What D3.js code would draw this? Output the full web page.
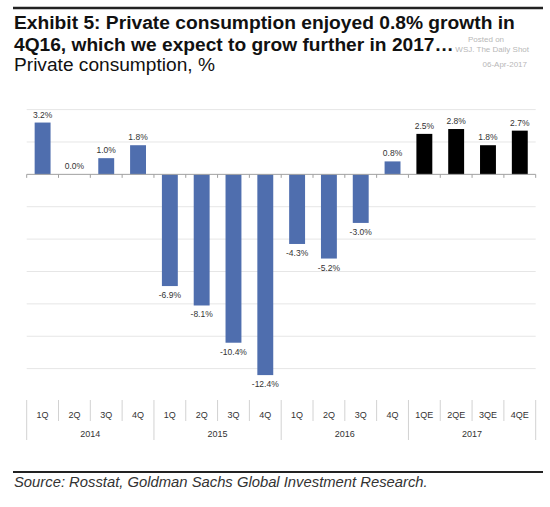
<!DOCTYPE html>
<html><head><meta charset="utf-8">
<script src="https://cdn.jsdelivr.net/npm/d3@7"></script>
<style>body{margin:0;background:#fff}svg{display:block}</style>
</head><body>
<svg id="c" width="550" height="507"></svg>
<script>
const quarters = ["1Q","2Q","3Q","4Q","1Q","2Q","3Q","4Q","1Q","2Q","3Q","4Q","1QE","2QE","3QE","4QE"];
const years = ["2014","2015","2016","2017"];
const values = [3.2,0.0,1.0,1.8,-6.9,-8.1,-10.4,-12.4,-4.3,-5.2,-3.0,0.8,2.5,2.8,1.8,2.7];
const isForecast = [0,0,0,0,0,0,0,0,0,0,0,0,1,1,1,1];
const yTicks = [-12,-10,-8,-6,-4,-2,2,4];

const svg = d3.select("#c");
const font = "Liberation Sans, Arial, Helvetica, sans-serif";

// watermark
const wm = svg.append("g").attr("fill","#b8b8b8").attr("font-family",font).attr("font-size",8);
wm.append("text").attr("x",468).attr("y",42).text("Posted on");
wm.append("text").attr("x",529).attr("y",52).attr("text-anchor","end").text("WSJ. The Daily Shot");
wm.append("text").attr("x",527).attr("y",67).attr("text-anchor","end").text("06-Apr-2017");

// top rule
svg.append("line").attr("x1",13).attr("x2",543).attr("y1",8).attr("y2",8).attr("stroke","#222").attr("stroke-width",2.5);

function fitText(sel, w){
  const len = sel.node().getComputedTextLength();
  const fs = parseFloat(sel.attr("font-size"));
  sel.attr("font-size", fs*w/len);
}
const t1 = svg.append("text").attr("x",14).attr("y",29).attr("font-family",font).attr("font-weight","bold").attr("font-size",19).attr("fill","#111")
  .text("Exhibit 5: Private consumption enjoyed 0.8% growth in");
fitText(t1,501);
const t2 = svg.append("text").attr("x",14).attr("y",51).attr("font-family",font).attr("font-weight","bold").attr("font-size",19).attr("fill","#111")
  .text("4Q16, which we expect to grow further in 2017\u2026");
fitText(t2,440);
const t3 = svg.append("text").attr("x",14).attr("y",71).attr("font-family",font).attr("font-size",18).attr("fill","#111")
  .text("Private consumption, %");
fitText(t3,201);

// scales
const x0 = 26.7, x1 = 535.7;
const x = d3.scaleBand().domain(d3.range(values.length)).range([x0,x1]).paddingInner(0.5).paddingOuter(0.25);
const step = (x1-x0)/values.length;
const y = d3.scaleLinear().domain([-14,4]).range([401,109.6]);

// gridlines
svg.append("g").selectAll("line").data(yTicks).join("line")
  .attr("x1",x0).attr("x2",x1).attr("y1",d=>y(d)).attr("y2",d=>y(d))
  .attr("stroke","#e6e6e6").attr("stroke-width",1);

// bars
svg.append("g").selectAll("rect").data(values).join("rect")
  .attr("x",(d,i)=>x(i)).attr("width",x.bandwidth())
  .attr("y",d=>y(Math.max(0,d))).attr("height",d=>Math.abs(y(d)-y(0)))
  .attr("fill",(d,i)=>isForecast[i]?"#000":"#4f6eae");

// zero axis
const zy = y(0);
svg.append("line").attr("x1",x0).attr("x2",x1).attr("y1",zy).attr("y2",zy).attr("stroke","#a0a0a0").attr("stroke-width",1);
svg.append("g").selectAll("line").data(d3.range(values.length+1)).join("line")
  .attr("x1",i=>x0+i*step).attr("x2",i=>x0+i*step).attr("y1",zy).attr("y2",zy+3.5)
  .attr("stroke","#a0a0a0").attr("stroke-width",1);

// data labels
svg.append("g").attr("font-family",font).attr("font-size",8.5).attr("fill","#333").attr("text-anchor","middle")
  .selectAll("text").data(values).join("text")
  .attr("x",(d,i)=>x(i)+x.bandwidth()/2)
  .attr("y",d=> d>=0 ? y(d)-5 : y(d)+12)
  .text(d=>d.toFixed(1)+"%");

// category axis (multi-level)
const cat = svg.append("g");
cat.selectAll("line").data(d3.range(values.length+1)).join("line")
  .attr("x1",i=>x0+i*step).attr("x2",i=>x0+i*step)
  .attr("y1",400).attr("y2",i=> i%4===0 ? 440 : 421)
  .attr("stroke","#d2d2d2").attr("stroke-width",1);
cat.selectAll("text.q").data(quarters).join("text").attr("class","q")
  .attr("x",(d,i)=>x(i)+x.bandwidth()/2).attr("y",418)
  .attr("text-anchor","middle").attr("font-family",font).attr("font-size",9).attr("fill","#333")
  .text(d=>d);
cat.selectAll("text.yr").data(years).join("text").attr("class","yr")
  .attr("x",(d,i)=>x0+(i*4+2)*step).attr("y",437)
  .attr("text-anchor","middle").attr("font-family",font).attr("font-size",9).attr("fill","#333")
  .text(d=>d);

// bottom rule & source
svg.append("line").attr("x1",13).attr("x2",543).attr("y1",472).attr("y2",472).attr("stroke","#222").attr("stroke-width",2);
const src = svg.append("text").attr("x",14).attr("y",487).attr("font-family",font).attr("font-style","italic").attr("font-size",13).attr("fill","#333")
  .text("Source: Rosstat, Goldman Sachs Global Investment Research.");
fitText(src,414);
</script>
</body></html>
